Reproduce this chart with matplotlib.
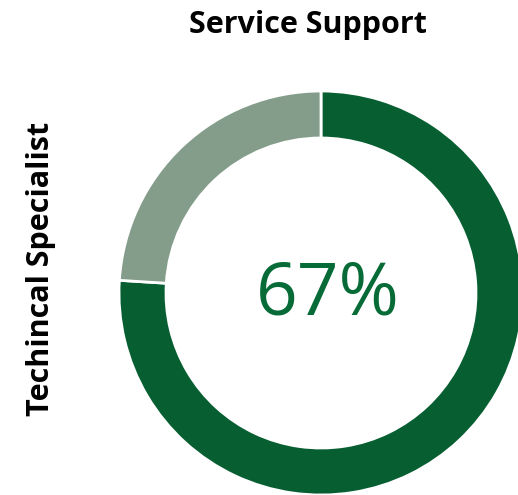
import matplotlib
matplotlib.use("Agg")
import matplotlib.pyplot as plt

# Data
categories = ["Service Support", "Other"]
values = [76, 24]
center_label = "67%"
title = "Service Support"
ylabel = "Techincal Specialist"
colors = ["#065E31", "#839D8A"]

W, H, DPI = 518, 495, 100
fig = plt.figure(figsize=(W / DPI, H / DPI), dpi=DPI)
fig.patch.set_facecolor("white")

def px(v):
    return v * 72 / DPI

cx, cy, R = 321, 293, 202
ax = fig.add_axes([(cx - R) / W, (H - cy - R) / H, 2 * R / W, 2 * R / H])
ax.pie(values, colors=colors, startangle=90, counterclock=False, radius=1,
       wedgeprops=dict(width=(202 - 155) / 202, edgecolor="white", linewidth=2))
ax.set_xlim(-1, 1)
ax.set_ylim(-1, 1)
ax.set_aspect("equal")
ax.axis("off")
ax.text(0.035, -0.01, center_label, ha="center", va="center", color="#066B36",
        fontsize=px(73), family=["Open Sans", "DejaVu Sans"])

fig.text(308 / W, 1 - 25 / H, title, ha="center", va="center",
         fontsize=px(30.5), fontweight="bold", family=["Open Sans", "DejaVu Sans"])
fig.text(41 / W, 1 - 269 / H, ylabel, ha="center", va="center", rotation=90,
         fontsize=px(30.5), fontweight="bold", family=["Open Sans", "DejaVu Sans"])

fig.savefig("out.png", dpi=DPI, facecolor="white")
